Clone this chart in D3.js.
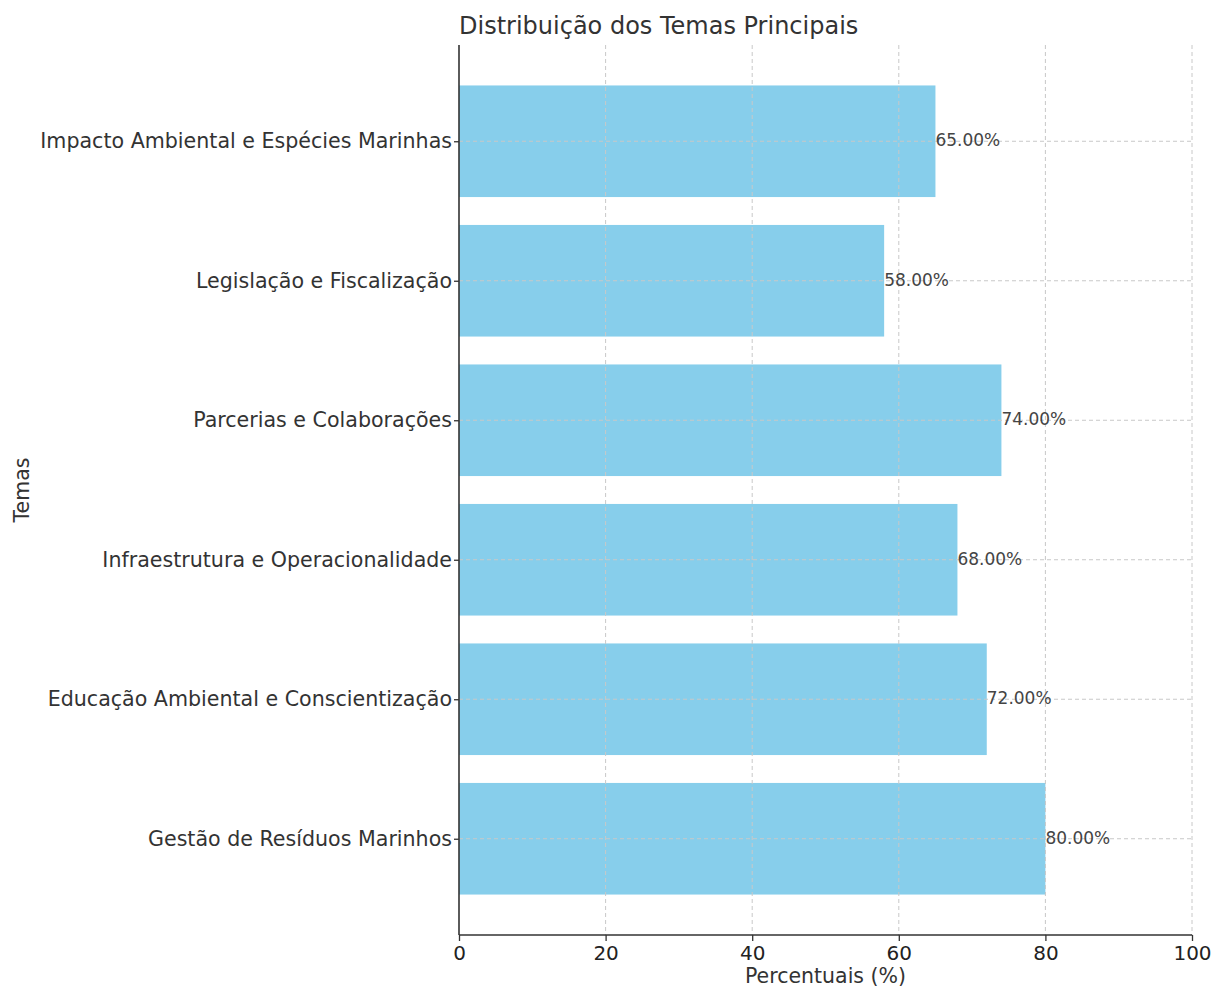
<!DOCTYPE html>
<html>
<head>
<meta charset="utf-8">
<script src="https://cdn.jsdelivr.net/npm/d3@7"></script>
<style>
  html, body { margin: 0; padding: 0; background: #fff; }
  svg { display: block; font-family: "DejaVu Sans", sans-serif; }
</style>
</head>
<body>
<svg id="chart" width="1213" height="987"></svg>
<script>
// Themes, listed bottom to top as they appear on the y axis
const categories = [
  "Gestão de Resíduos Marinhos",
  "Educação Ambiental e Conscientização",
  "Infraestrutura e Operacionalidade",
  "Parcerias e Colaborações",
  "Legislação e Fiscalização",
  "Impacto Ambiental e Espécies Marinhas"
];
const percentages = [80, 72, 68, 74, 58, 65];
const xTicks = [0, 20, 40, 60, 80, 100];

const svg = d3.select("#chart");
const margin = { left: 459, right: 21, top: 45, bottom: 52 };
const W = 1213, H = 987;
const plotW = W - margin.left - margin.right;
const plotH = H - margin.top - margin.bottom;

const g = svg.append("g").attr("transform", `translate(${margin.left},${margin.top})`);

const x = d3.scaleLinear().domain([0, 100]).range([0, plotW]);
// numeric band positions: bar i centered at i, height 0.8, with 5% padding
const y = d3.scaleLinear().domain([-0.69, 5.69]).range([plotH, 0]);
const barH = y(0) - y(0.8);

// bars
g.selectAll("rect.bar")
  .data(categories)
  .join("rect")
  .attr("class", "bar")
  .attr("x", x(0))
  .attr("y", (d, i) => y(i + 0.4))
  .attr("width", (d, i) => x(percentages[i]) - x(0))
  .attr("height", barH)
  .attr("fill", "#87CEEB");

// dashed grid drawn over the bars
const grid = g.append("g").attr("stroke", "#c8c8c8").attr("stroke-dasharray", "4,3").attr("stroke-width", 1);
grid.selectAll("line.vx").data(xTicks.slice(1)).join("line")
  .attr("x1", d => x(d)).attr("x2", d => x(d))
  .attr("y1", 0).attr("y2", plotH);
grid.selectAll("line.hy").data(categories).join("line")
  .attr("x1", 0).attr("x2", plotW)
  .attr("y1", (d, i) => y(i)).attr("y2", (d, i) => y(i));

// value labels at bar ends
g.selectAll("text.val")
  .data(categories)
  .join("text")
  .attr("class", "val")
  .attr("x", (d, i) => x(percentages[i]))
  .attr("y", (d, i) => y(i))
  .attr("dy", "0.3em")
  .attr("font-size", 17)
  .attr("fill", "#444")
  .text((d, i) => percentages[i].toFixed(2) + "%");

// x axis
const xAxis = g.append("g")
  .attr("transform", `translate(0,${plotH})`)
  .call(d3.axisBottom(x).tickValues(xTicks).tickSize(6).tickPadding(5).tickFormat(d3.format("d")));
xAxis.select(".domain").attr("stroke", "#333").attr("stroke-width", 1.6).attr("d", `M0,0H${plotW}`);
xAxis.selectAll(".tick line").attr("stroke", "#333").attr("stroke-width", 1.3);
xAxis.selectAll(".tick text").attr("font-size", 20).attr("fill", "#222")
  .attr("font-family", "DejaVu Sans, sans-serif");

// y axis
const yAxis = g.append("g")
  .call(d3.axisLeft(y).tickValues(d3.range(categories.length)).tickSize(5).tickPadding(2)
    .tickFormat(i => categories[i]));
yAxis.select(".domain").attr("stroke", "#333").attr("stroke-width", 1.6).attr("d", `M0,0V${plotH}`);
yAxis.selectAll(".tick line").attr("stroke", "#333").attr("stroke-width", 1.3);
yAxis.selectAll(".tick text").attr("font-size", 20.6).attr("fill", "#333")
  .attr("font-family", "DejaVu Sans, sans-serif");

// title and axis labels
svg.append("text")
  .attr("x", margin.left).attr("y", 34)
  .attr("font-size", 24).attr("fill", "#333")
  .text("Distribuição dos Temas Principais");

svg.append("text")
  .attr("x", margin.left + plotW / 2).attr("y", 983)
  .attr("text-anchor", "middle")
  .attr("font-size", 20.5).attr("fill", "#333")
  .text("Percentuais (%)");

svg.append("text")
  .attr("transform", `translate(29,${margin.top + plotH / 2}) rotate(-90)`)
  .attr("text-anchor", "middle")
  .attr("font-size", 20.5).attr("fill", "#333")
  .text("Temas");
</script>
</body>
</html>
